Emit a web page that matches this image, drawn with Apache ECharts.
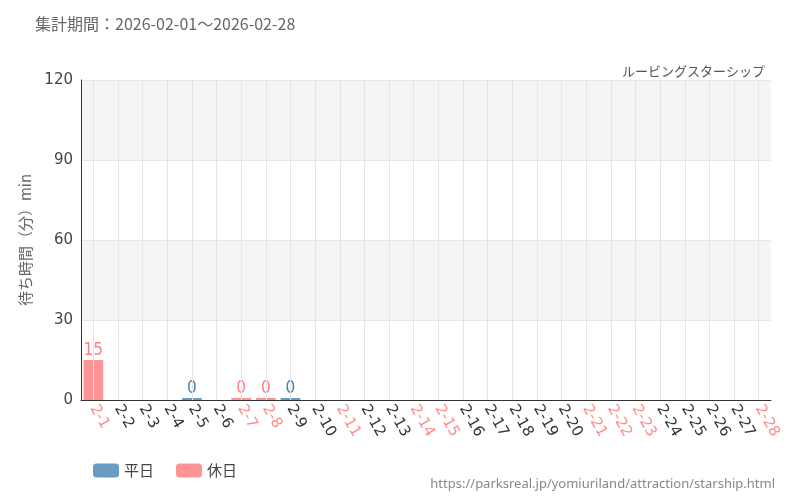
<!DOCTYPE html>
<html><head><meta charset="utf-8">
<script src="https://cdn.jsdelivr.net/npm/echarts@6/dist/echarts.min.js"></script>
<style>body{margin:0}#c{width:800px;height:500px}</style>
</head><body><div id="c"></div>
<script>
const days = ["2-1","2-2","2-3","2-4","2-5","2-6","2-7","2-8","2-9","2-10","2-11","2-12","2-13","2-14","2-15","2-16","2-17","2-18","2-19","2-20","2-21","2-22","2-23","2-24","2-25","2-26","2-27","2-28"];
const holidays = ["2-1","2-7","2-8","2-11","2-14","2-15","2-21","2-22","2-23","2-28"];
const weekday = [null,null,null,null,0,null,null,null,0,null,null,null,null,null,null,null,null,null,null,null,null,null,null,null,null,null,null,null];
const holiday = [15,null,null,null,null,null,0,0,null,null,null,null,null,null,null,null,null,null,null,null,null,null,null,null,null,null,null,null];

const chart = echarts.init(document.getElementById("c"));
const lbl = color => ({
  show: true, position: "top", color, fontSize: 17, fontFamily: "DejaVu Sans Condensed, Liberation Sans Narrow, sans-serif",
  textBorderColor: "#fff", textBorderWidth: 2, distance: 1
});
chart.setOption({
  animation: false,
  title: [
    { text: "集計期間：2026-02-01～2026-02-28", left: 30, top: 11, textStyle: { color: "#666", fontSize: 16, fontWeight: "normal", fontFamily: "Noto Sans CJK JP" } },
    { text: "ルービングスターシップ", right: 30, top: 60, textStyle: { color: "#555", fontSize: 13, fontWeight: "normal", fontFamily: "Noto Sans CJK JP" } },
    { text: "https://parksreal.jp/yomiuriland/attraction/starship.html", right: 20, top: 473, textStyle: { color: "#888", fontSize: 13, fontWeight: "normal", fontFamily: "Noto Sans" } }
  ],
  legend: { left: 88, top: 458, itemWidth: 26, itemHeight: 14, itemGap: 22, textStyle: { fontSize: 15, color: "#444", fontFamily: "Noto Sans CJK JP" } },
  grid: { left: 81, right: 29, top: 80, bottom: 100 },
  xAxis: {
    type: "category", data: days,
    axisLine: { lineStyle: { color: "#333" } },
    axisTick: { alignWithLabel: true, lineStyle: { color: "#000" } },
    splitLine: { show: false },
    axisLabel: {
      rotate: -60, interval: 0, fontSize: 15, margin: 6, fontFamily: "DejaVu Sans",
      color: v => holidays.includes(v) ? "#ff8a8a" : "#333"
    }
  },
  yAxis: {
    type: "value", min: 0, max: 120, interval: 30,
    name: "待ち時間（分）min", nameLocation: "middle", nameGap: 48,
    nameTextStyle: { color: "#666", fontSize: 15, fontFamily: "Noto Sans CJK JP" },
    axisLine: { show: true, lineStyle: { color: "#333" } },
    axisLabel: { color: "#444", fontSize: 15, fontFamily: "DejaVu Sans" },
    splitLine: { lineStyle: { color: "#e6e6e6" } },
    splitArea: { show: true, areaStyle: { color: ["#fff", "#f5f5f5"] } }
  },
  series: [
    { name: "平日", type: "bar", stack: "a", data: weekday, barWidth: "80%", barMinHeight: 2, itemStyle: { color: "#6a9bc3" }, label: lbl("#4a80b8"),
      markLine: { silent: true, symbol: ["none", "none"], label: { show: false }, lineStyle: { color: "#e6e6e6", type: "solid", width: 1 }, data: days.map(d => ({ xAxis: d })) }, z: 1 },
    { name: "休日", type: "bar", stack: "a", data: holiday, barWidth: "80%", barMinHeight: 2, itemStyle: { color: "#ff9494" }, label: lbl("#ff8080"), z: 2 }
  ]
});
</script></body></html>
